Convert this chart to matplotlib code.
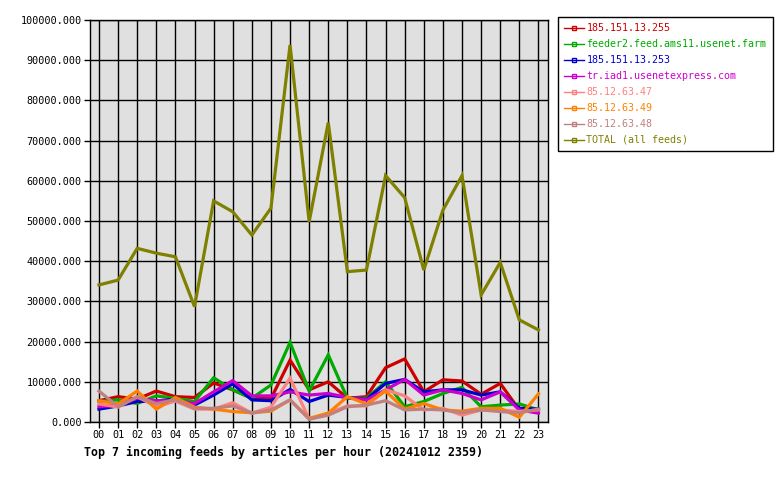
import numpy as np
import matplotlib
matplotlib.use("Agg")
import matplotlib.pyplot as plt
from matplotlib.lines import Line2D

hours = ["%02d" % h for h in range(24)]

feed_names = ["185.151.13.255", "feeder2.feed.ams11.usenet.farm", "185.151.13.253",
              "tr.iad1.usenetexpress.com", "85.12.63.47", "85.12.63.49", "85.12.63.48",
              "TOTAL (all feeds)"]
feed_colors = ["#cc0000", "#00aa00", "#0000cc", "#cc00cc", "#ff8080", "#ff8000", "#c08080", "#808000"]

red = [5300, 6300, 5700, 7700, 6300, 6100, 9700, 8000, 5900, 5800, 15400, 8000,
       10000, 5900, 6300, 13500, 15700, 7500, 10500, 10200, 6900, 9600, 3000, 3000]
green = [5100, 5500, 4600, 6500, 5900, 5100, 11000, 8000, 5900, 9200, 19800, 7700,
         16700, 5900, 5900, 10000, 3800, 5100, 7100, 8600, 3800, 4200, 4500, 3000]
blue = [3200, 4000, 5100, 5200, 5700, 4200, 6700, 9500, 5500, 5300, 8100, 5100,
        6700, 6100, 5600, 9600, 10600, 7500, 8000, 8000, 6700, 7500, 3400, 3200]
magenta = [3800, 4200, 5900, 5300, 5300, 4600, 7500, 10300, 6500, 6500, 7500, 6700,
           7100, 6100, 5500, 8000, 10600, 6700, 8000, 7100, 5500, 7500, 3000, 2200]
salmon = [4500, 3700, 6300, 3800, 5200, 3200, 3200, 4800, 2200, 3700, 10900, 700,
          2200, 4000, 4000, 8000, 6500, 3000, 3400, 1700, 3000, 3000, 2600, 3000]
orange = [5300, 4500, 7700, 3200, 6100, 3700, 3200, 2600, 2300, 2700, 5500, 900,
          2200, 6300, 4500, 7700, 3200, 4600, 3000, 2700, 3400, 3400, 1200, 7000]
rosy = [7700, 3800, 6300, 4600, 5500, 3400, 3400, 4000, 2200, 3000, 5500, 700,
        1700, 3800, 4200, 5300, 3000, 3200, 3000, 2300, 3000, 2600, 2300, 3200]
total = [34100, 35300, 43200, 42000, 41100, 28700, 55000, 52300, 46500, 53200, 93800, 49800,
         74500, 37400, 37800, 61300, 55800, 37800, 52700, 61300, 31600, 39700, 25400, 22900]

series = [red, green, blue, magenta, salmon, orange, rosy, total]

mono = "DejaVu Sans Mono"

fig = plt.figure(figsize=(7.8, 4.8), dpi=100)
ax = fig.add_axes([90 / 780, 1 - 422 / 480, 458 / 780, 402 / 480])
ax.set_facecolor("#e0e0e0")

x = np.arange(24)
for vals, col in zip(series, feed_colors):
    ax.plot(x, vals, color=col, linewidth=2.3, solid_joinstyle="miter")

ax.set_xlim(-0.47, 23.5)
ax.set_ylim(0, 100000)
ax.set_xticks(x)
ax.set_xticklabels(hours, fontfamily=mono, fontsize=7.3)
ax.set_yticks(np.arange(0, 100001, 10000))
ax.set_yticklabels(["%.3f" % v for v in np.arange(0, 100001, 10000)], fontfamily=mono, fontsize=7.3)
ax.tick_params(direction="out", length=4, width=1, color="black", pad=2)
ax.grid(True, color="black", linewidth=1)
ax.set_axisbelow(True)
for s in ax.spines.values():
    s.set_color("black")
    s.set_linewidth(1)

handles = [Line2D([0], [0], color=c, linewidth=1, marker="s", markersize=2.5,
                  markerfacecolor="none", markeredgecolor=c) for c in feed_colors]
leg = fig.legend(handles, feed_names, loc="upper left",
                 bbox_to_anchor=(558 / 780, 1 - 17 / 480),
                 prop={"family": mono, "size": 7.2}, labelcolor="linecolor",
                 fancybox=False, edgecolor="black", framealpha=1,
                 handlelength=2.0, handletextpad=0.25, labelspacing=0.6,
                 borderpad=0.6, borderaxespad=0)
leg.get_frame().set_linewidth(1)

fig.text(84 / 780, 1 - 452 / 480, "Top 7 incoming feeds by articles per hour (20241012 2359)",
         fontfamily=mono, fontsize=8.35, fontweight="bold", va="center", ha="left")

fig.savefig("out.png", dpi=100)
